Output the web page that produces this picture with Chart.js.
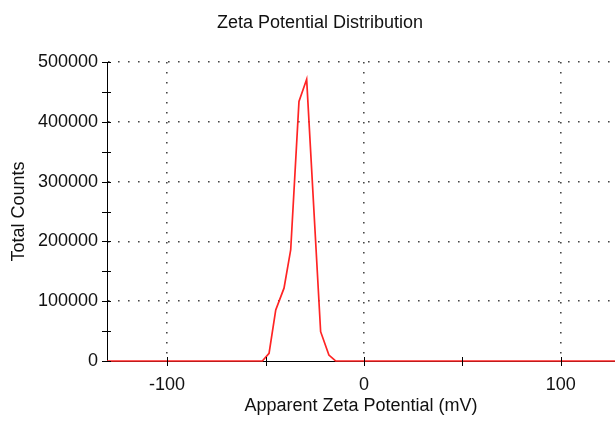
<!DOCTYPE html>
<html>
<head>
<meta charset="utf-8">
<script src="https://cdn.jsdelivr.net/npm/chart.js@4/dist/chart.umd.min.js"></script>
<style>
  html, body { margin: 0; padding: 0; background: #fff; }
  #wrap { width: 615px; height: 425px; }
</style>
</head>
<body>
<div id="wrap"><canvas id="zeta"></canvas></div>
<script>
// zeta potential (mV) and total counts
let zeta = [-130.5, -51.6, -48.2, -44.8, -40.6, -37.2, -33.0, -29.1, -22.0, -17.8, -14.4, 127.5];
let counts = [0, 0, 12900, 85400, 121800, 186000, 434000, 471000, 49000, 10000, 0, 0];

let xTicks = [-100, -50, 0, 50, 100];
let xLabels = [-100, 0, 100];
let yTicks = [0, 50000, 100000, 150000, 200000, 250000, 300000, 350000, 400000, 450000, 500000];
let yLabels = [0, 100000, 200000, 300000, 400000, 500000];

let font = { family: 'Liberation Sans, Arial, sans-serif', size: 18 };

// title sits a little left of the plot centre
let titlePlugin = {
  id: 'plotTitle',
  afterDraw(chart) {
    let ctx = chart.ctx;
    ctx.save();
    ctx.font = '18px ' + font.family;
    ctx.fillStyle = '#111';
    ctx.textAlign = 'center';
    ctx.textBaseline = 'middle';
    ctx.fillText('Zeta Potential Distribution', 320, 23);
    ctx.restore();
  }
};

// tick marks that cross the axis lines
let crossTicks = {
  id: 'crossTicks',
  afterDatasetsDraw(chart) {
    let ctx = chart.ctx;
    let x = chart.scales.x, y = chart.scales.y;
    let area = chart.chartArea;
    ctx.save();
    ctx.strokeStyle = '#000';
    ctx.lineWidth = 1;
    ctx.beginPath();
    x.ticks.forEach(t => {
      let px = Math.round(x.getPixelForValue(t.value)) + 0.5;
      ctx.moveTo(px, area.bottom - 4);
      ctx.lineTo(px, area.bottom + 5);
    });
    y.ticks.forEach(t => {
      let py = Math.round(y.getPixelForValue(t.value)) + 0.5;
      ctx.moveTo(area.left - 5, py);
      ctx.lineTo(area.left + 4, py);
    });
    ctx.stroke();
    ctx.restore();
  }
};

let dotted = 'rgba(50,50,50,0.9)';

new Chart(document.getElementById('zeta'), {
  type: 'line',
  data: {
    datasets: [{
      data: zeta.map((v, i) => ({ x: v, y: counts[i] })),
      borderColor: '#ff2424',
      borderWidth: 1.7,
      pointRadius: 0,
      tension: 0,
      clip: false
    }]
  },
  options: {
    responsive: true,
    maintainAspectRatio: false,
    animation: false,
    layout: { padding: { top: 62, right: 0, bottom: 0, left: 0 } },
    plugins: {
      legend: { display: false },
      title: { display: false },
      tooltip: { enabled: false }
    },
    scales: {
      x: {
        type: 'linear',
        min: -130.5,
        max: 127.5,
        afterBuildTicks: s => { s.ticks = xTicks.map(v => ({ value: v })); },
        afterFit: s => { s.height = 64; },
        ticks: {
          autoSkip: false,
          maxRotation: 0,
          padding: 13,
          color: '#111',
          font: font,
          callback: v => xLabels.includes(v) ? String(v) : ''
        },
        grid: {
          drawTicks: false,
          lineWidth: 1.6,
          color: c => (c.tick && c.tick.value % 100 === 0) ? dotted : 'rgba(0,0,0,0)'
        },
        border: { display: true, color: '#000', width: 1, dash: [1.6, 8.4] },
        title: {
          display: true,
          text: 'Apparent Zeta Potential (mV)',
          color: '#111',
          font: font,
          padding: { top: 0, bottom: 8 }
        }
      },
      y: {
        min: 0,
        max: 500000,
        afterBuildTicks: s => { s.ticks = yTicks.map(v => ({ value: v })); },
        afterFit: s => { s.width = 107; },
        ticks: {
          autoSkip: false,
          padding: 9,
          color: '#111',
          font: font,
          callback: v => yLabels.includes(v) ? String(v) : ''
        },
        grid: {
          drawTicks: false,
          lineWidth: 1.6,
          color: c => (c.tick && c.tick.value % 100000 === 0 && c.tick.value > 0) ? dotted : 'rgba(0,0,0,0)'
        },
        border: { display: true, color: '#000', width: 1, dash: [1.6, 8.4] },
        title: {
          display: true,
          text: 'Total Counts',
          color: '#111',
          font: font,
          padding: { top: 8, bottom: 4 }
        }
      }
    }
  },
  plugins: [titlePlugin, crossTicks]
});
</script>
</body>
</html>
